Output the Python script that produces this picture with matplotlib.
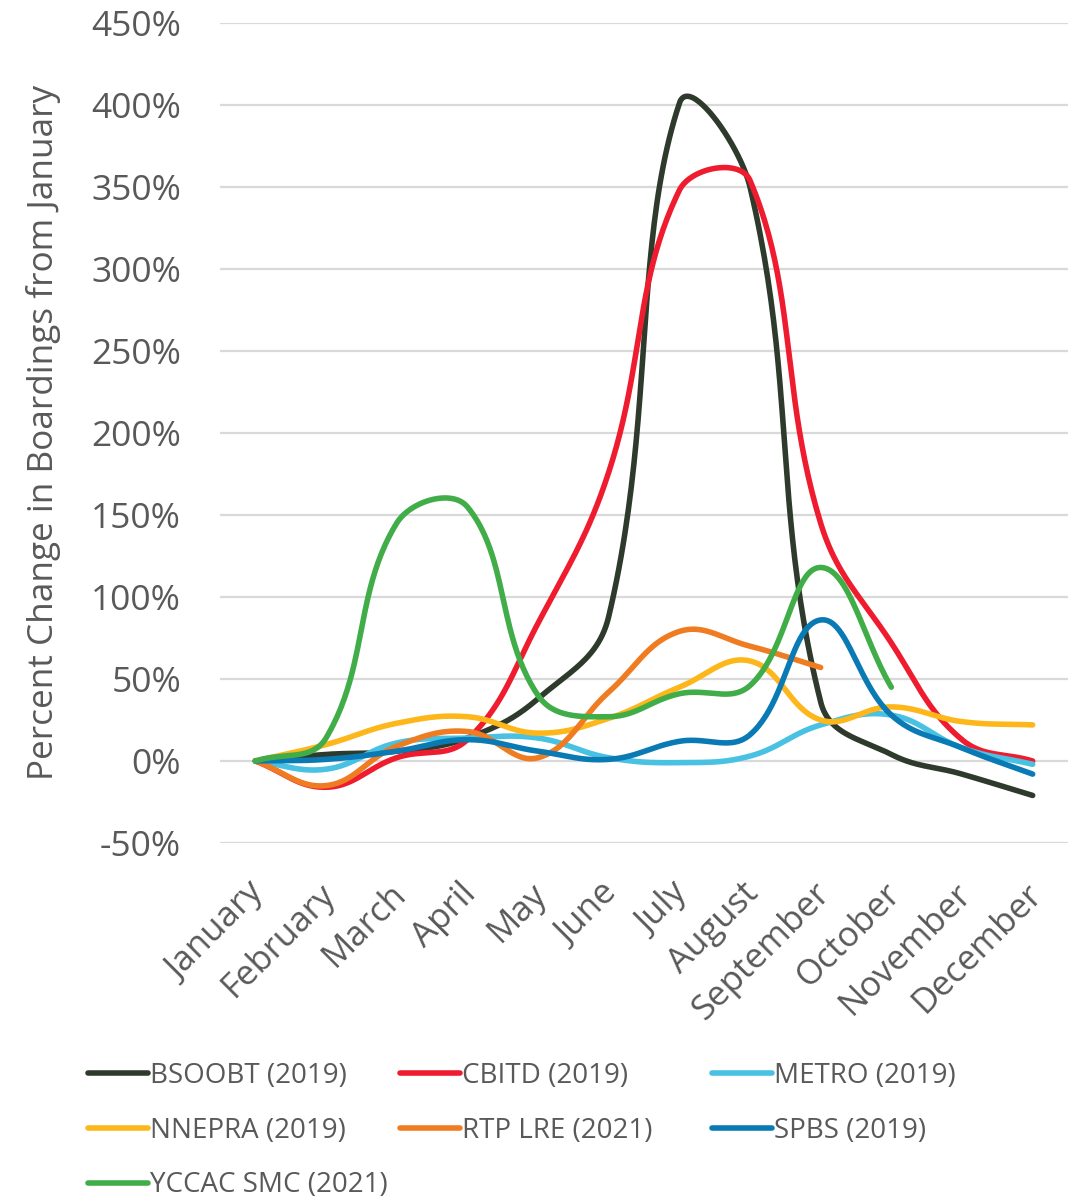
import numpy as np
import matplotlib
matplotlib.use("Agg")
import matplotlib.pyplot as plt
import matplotlib.transforms as mtransforms
from matplotlib.lines import Line2D

plt.rcParams['font.family'] = ['Open Sans', 'DejaVu Sans']

months = ["January", "February", "March", "April", "May", "June", "July",
          "August", "September", "October", "November", "December"]

bsoobt = [0, 4, 6, 14, 38, 88, 401, 350, 36, 4, -8, -21]
cbitd = [0, -16, 2, 13, 84, 176, 348, 354, 145, 72, 13, 0]
metro = [0, -5, 11, 14, 14, 2, -1, 3, 22, 28, 8, -2]
nnepra = [0, 10, 23, 27, 17, 26, 45, 61, 25, 33, 24, 22]
rtp_lre = [0, -15, 9, 18, 2, 42, 79, 70, 57]
spbs = [0, 1, 6, 13, 6, 1, 12, 16, 86, 28, 8, -8]
yccac_smc = [0, 14, 145, 155, 40, 27, 41, 46, 118, 45]

series = [
    ("BSOOBT (2019)", bsoobt, "#2E3B2C"),
    ("CBITD (2019)", cbitd, "#EE1C2E"),
    ("METRO (2019)", metro, "#48C1E3"),
    ("NNEPRA (2019)", nnepra, "#FDB71A"),
    ("RTP LRE (2021)", rtp_lre, "#F07C22"),
    ("SPBS (2019)", spbs, "#0A7AB5"),
    ("YCCAC SMC (2021)", yccac_smc, "#41AD49"),
]

W, H = 1076, 1201
fig = plt.figure(figsize=(W / 100, H / 100), dpi=100)
left, right, top, bottom = 220, 1068, 23, 843
ax = fig.add_axes([left / W, 1 - bottom / H, (right - left) / W, (bottom - top) / H])

ymin, ymax = -50, 450
xmin, xmax = -0.5, 11.5
# pixel size of one unit on each axis, so the smoothing works in screen space
sx = (right - left) / (xmax - xmin)
sy = (bottom - top) / (ymax - ymin)


def smooth(ys, n=50, tension=0.4):
    """Cubic Bezier through every point; control arms follow the neighbours'
    chord, shortened by the share of the current segment in the two adjacent ones."""
    ys = np.asarray(ys, dtype=float)
    xs = np.arange(len(ys), dtype=float)
    P = np.column_stack([xs * sx, ys * sy])
    m = len(P)
    out = [P[0]]
    for i in range(m - 1):
        p0 = P[i - 1] if i > 0 else P[i]
        p1 = P[i]
        p2 = P[i + 1]
        p3 = P[i + 2] if i + 2 < m else P[i + 1]
        d01 = np.linalg.norm(p1 - p0)
        d12 = np.linalg.norm(p2 - p1)
        d23 = np.linalg.norm(p3 - p2)
        f1 = d12 / (d01 + d12)
        f2 = d12 / (d12 + d23)
        c1 = p1 + (p2 - p0) * f1 * tension
        c2 = p2 - (p3 - p1) * f2 * tension
        t = np.linspace(0, 1, n)[1:, None]
        seg = ((1 - t) ** 3) * p1 + 3 * ((1 - t) ** 2) * t * c1 + 3 * (1 - t) * t ** 2 * c2 + t ** 3 * p2
        out.extend(seg)
    out = np.array(out)
    return out[:, 0] / sx, out[:, 1] / sy


for name, vals, col in series:
    cx, cy = smooth(vals)
    ax.plot(cx, cy, color=col, lw=4, solid_capstyle='round', solid_joinstyle='round',
            label=name, zorder=3)

ax.set_xlim(xmin, xmax)
ax.set_ylim(ymin, ymax)
ax.set_yticks(np.arange(-50, 451, 50))
ax.set_yticklabels([f"{v}%" for v in range(-50, 451, 50)])
ax.set_xticks(range(12))
ax.set_xticklabels(months, rotation=45, ha='right', va='center', rotation_mode='anchor')
ax.tick_params(axis='y', length=0, pad=28, labelsize=25.5, labelcolor='#595959')
ax.tick_params(axis='x', length=0, pad=33, labelsize=25, labelcolor='#595959')
shift = mtransforms.ScaledTranslation(4 / 100, 0, fig.dpi_scale_trans)
for lbl in ax.get_xticklabels():
    lbl.set_transform(lbl.get_transform() + shift)
ax.grid(axis='y', color='#D9D9D9', lw=1.6, zorder=0)
ax.set_axisbelow(True)
for s in ax.spines.values():
    s.set_visible(False)

fig.text(44 / W, 1 - 432 / H, "Percent Change in Boardings from January", rotation=90,
         ha='center', va='center', fontsize=25.3, color='#595959')

handles = {name: Line2D([], [], color=col, lw=4, solid_capstyle='round')
           for name, _, col in series}
columns = [
    (88, ["BSOOBT (2019)", "NNEPRA (2019)", "YCCAC SMC (2021)"]),
    (400, ["CBITD (2019)", "RTP LRE (2021)"]),
    (712, ["METRO (2019)", "SPBS (2019)"]),
]
for x0, names in columns:
    leg = fig.legend([handles[k] for k in names], names, loc='upper left',
                     bbox_to_anchor=(x0 / W, 1 - 1062 / H), frameon=False, fontsize=20,
                     handlelength=2.15, handletextpad=0.1, labelspacing=0.96,
                     borderpad=0, borderaxespad=0)
    for t in leg.get_texts():
        t.set_color('#595959')

fig.savefig("out.png", dpi=100, facecolor='white')
